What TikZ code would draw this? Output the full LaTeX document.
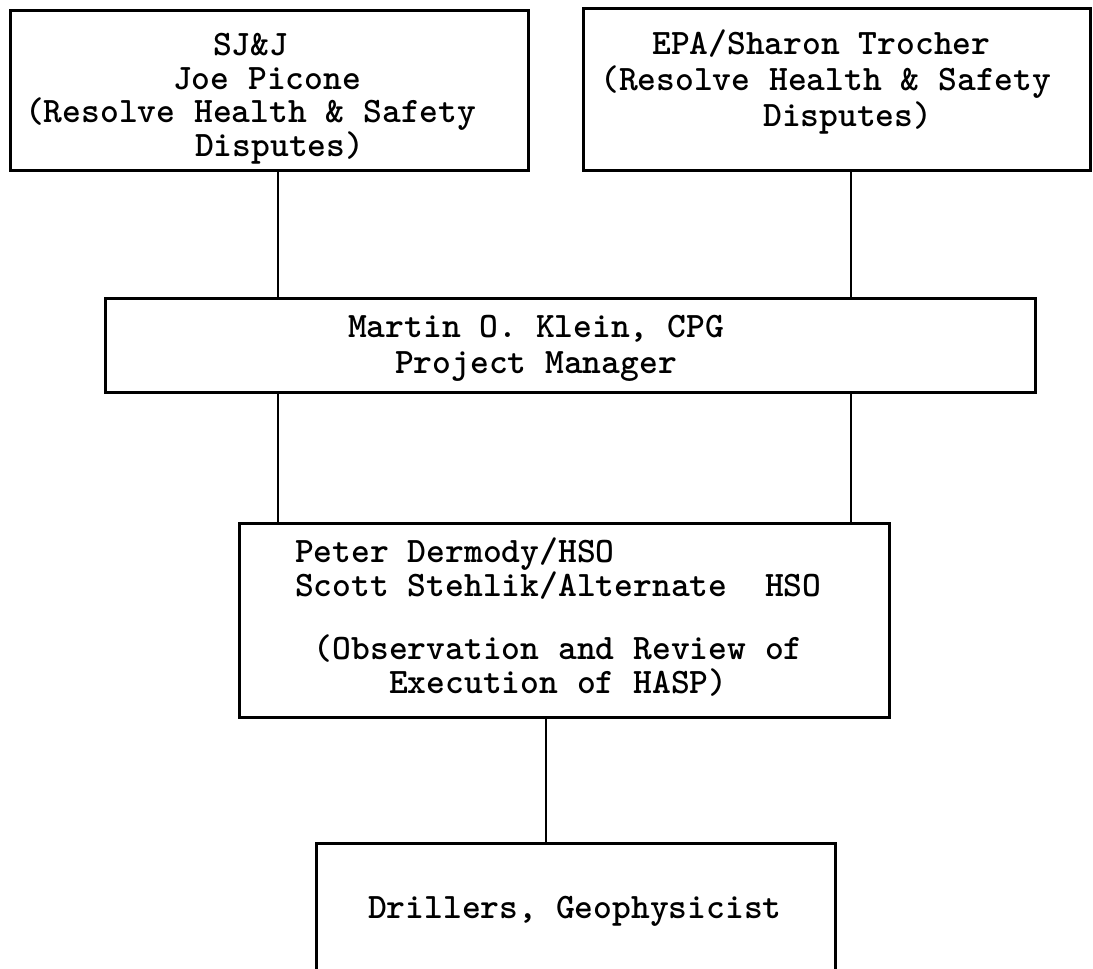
\documentclass[tikz,border=0pt]{standalone}
\usepackage{fontspec}
\begin{document}
\begin{tikzpicture}[x=1pt,y=-1pt,
  box/.style={draw,line width=3pt,rectangle,inner sep=0pt},
  txt/.style={anchor=base west,inner sep=0pt,font=\ttfamily\bfseries\fontsize{35.8}{36}\selectfont},
  ctxt/.style={anchor=base,inner sep=0pt,font=\ttfamily\bfseries\fontsize{35.8}{36}\selectfont},
  mtxt/.style={anchor=north west,inner sep=0pt,align=left,font=\ttfamily\bfseries\fontsize{35.8}{31.3}\selectfont},
  link/.style={line width=2.2pt}]
\useasboundingbox (0,0) rectangle (1093,969);
\clip (0,0) rectangle (1093,969);
% boxes
\node[box,minimum width=518pt,minimum height=160pt] (b1) at (269,90) {};
\node[box,minimum width=507pt,minimum height=162pt] (b2) at (836.5,89) {};
\node[box,minimum width=930pt,minimum height=94pt] (b3) at (570,345) {};
\node[box,minimum width=650pt,minimum height=194pt] (b4) at (564,620) {};
\node[box,minimum width=519pt,minimum height=167pt] (b5) at (575.5,926.5) {};
% texts box 1
\node[txt] (t11) at (213,55) {SJ\&J};
\node[txt] (t12) at (173,89) {Joe Picone};
\node[txt] (t13) at (25,122) {(Resolve Health \& Safety};
\node[txt] (t14) at (195,156) {Disputes)};
% texts box 2
\node[txt] (t21) at (652,54) {EPA/Sharon Trocher};
\node[txt] (t22) at (600,90) {(Resolve Health \& Safety};
\node[txt] (t23) at (763,126) {Disputes)};
% texts box 3
\node[ctxt] (t31) at (536,337) {Martin O. Klein, CPG};
\node[ctxt] (t32) at (536,373) {Project Manager};
% texts box 4
\node[mtxt] (t41) at (295,538) {Peter Dermody/HSO\\
Scott Stehlik/Alternate\ \ HSO\\[31.3pt]
\ (Observation and Review of\\[3pt]
\ \ \ \ \ Execution of HASP)};
% text box 5
\node[txt] (t51) at (368,918) {Drillers, Geophysicist};
% connector columns
\coordinate (cl) at (278,0);
\coordinate (cr) at (851,0);
\coordinate (cm) at (546,0);
\draw[link] (cl |- b1.south) -- (cl |- b3.north);
\draw[link] (cr |- b2.south) -- (cr |- b3.north);
\draw[link] (cl |- b3.south) -- (cl |- b4.north);
\draw[link] (cr |- b3.south) -- (cr |- b4.north);
\draw[link] (cm |- b4.south) -- (cm |- b5.north);
\end{tikzpicture}
\end{document}
